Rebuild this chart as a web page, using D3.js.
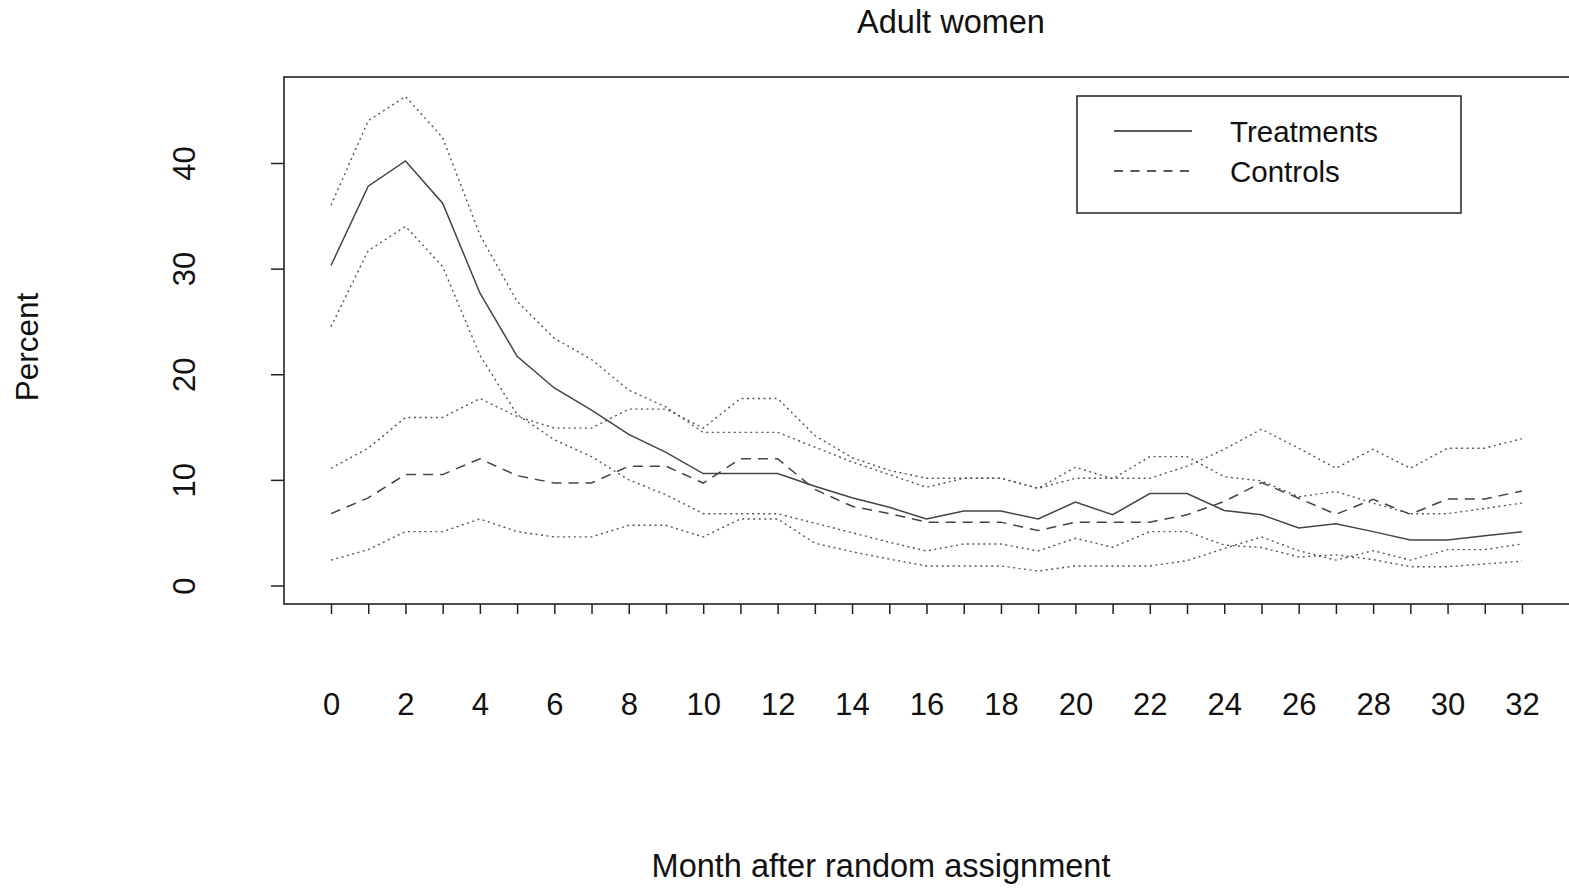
<!DOCTYPE html>
<html>
<head>
<meta charset="utf-8">
<script src="https://cdn.jsdelivr.net/npm/d3@7"></script>
<style>
  html, body { margin: 0; padding: 0; background: #fff; }
  svg { display: block; font-family: "Liberation Sans", Arial, Helvetica, sans-serif; }
</style>
</head>
<body>
<svg id="chart" width="1569" height="888"></svg>
<script>
// ---- data ----
const months = d3.range(0, 33);
const treatments = [30.3, 37.8, 40.2, 36.2, 27.7, 21.7, 18.7, 16.6, 14.3, 12.6, 10.6, 10.6, 10.6, 9.4, 8.3, 7.4, 6.3, 7.05, 7.05, 6.3, 7.9, 6.7, 8.7, 8.7, 7.1, 6.7, 5.45, 5.85, 5.1, 4.3, 4.3, 4.7, 5.1];
const treatUpper = [36.0, 44.0, 46.3, 42.4, 33.2, 26.9, 23.4, 21.4, 18.5, 16.9, 14.5, 14.5, 14.5, 13.1, 11.7, 10.5, 9.3, 10.15, 10.15, 9.2, 11.2, 10.1, 12.2, 12.2, 10.3, 9.9, 8.4, 8.9, 7.8, 6.8, 6.8, 7.3, 7.8];
const treatLower = [24.5, 31.7, 34.0, 30.2, 21.8, 16.2, 13.8, 12.2, 10.0, 8.6, 6.8, 6.8, 6.8, 5.9, 5.0, 4.1, 3.27, 3.93, 3.93, 3.27, 4.47, 3.62, 5.1, 5.1, 3.83, 3.6, 2.7, 2.9, 2.45, 1.78, 1.78, 2.04, 2.3];
const controls = [6.8, 8.3, 10.5, 10.5, 12.0, 10.4, 9.7, 9.7, 11.3, 11.3, 9.7, 12.0, 12.0, 9.1, 7.5, 6.8, 6.0, 6.0, 6.0, 5.2, 6.0, 6.0, 6.0, 6.7, 7.95, 9.74, 8.26, 6.74, 8.16, 6.74, 8.2, 8.2, 8.95];
const ctrlUpper = [11.1, 13.0, 15.9, 15.9, 17.7, 16.0, 14.9, 14.9, 16.7, 16.7, 14.9, 17.7, 17.7, 14.2, 12.1, 10.9, 10.15, 10.15, 10.15, 9.2, 10.15, 10.15, 10.15, 11.3, 12.9, 14.8, 13.0, 11.1, 12.9, 11.1, 13.0, 13.0, 13.9];
const ctrlLower = [2.4, 3.4, 5.1, 5.1, 6.3, 5.1, 4.6, 4.6, 5.7, 5.7, 4.6, 6.3, 6.3, 4.0, 3.2, 2.5, 1.85, 1.85, 1.85, 1.37, 1.85, 1.85, 1.85, 2.35, 3.5, 4.6, 3.3, 2.4, 3.3, 2.4, 3.4, 3.4, 3.93];
const yTicks = [0, 10, 20, 30, 40];
const xLabelTicks = d3.range(0, 33, 2);
const legendLabels = ["Treatments", "Controls"];
const titleText = "Adult women";
const xTitle = "Month after random assignment";
const yTitle = "Percent";

// ---- layout ----
const svg = d3.select("#chart");
const box = { left: 284, top: 77, right: 1580, bottom: 604 };
const x = d3.scaleLinear().domain([0, 32]).range([331, 1522]);
const y = d3.scaleLinear().domain([0, 40]).range([585.5, 163]);
const ink = "#222";

// plot box
svg.append("rect")
  .attr("x", box.left).attr("y", box.top)
  .attr("width", box.right - box.left).attr("height", box.bottom - box.top)
  .attr("fill", "none").attr("stroke", ink).attr("stroke-width", 1.6);

// series lines
const line = d3.line().x((d, i) => x(months[i])).y(d => y(d));
const series = [
  { v: treatUpper, dash: "2,3.5", color: "#555", w: 1.4 },
  { v: treatLower, dash: "2,3.5", color: "#555", w: 1.4 },
  { v: ctrlUpper, dash: "2,3.5", color: "#555", w: 1.4 },
  { v: ctrlLower, dash: "2,3.5", color: "#555", w: 1.4 },
  { v: controls, dash: "10,7", color: "#444", w: 1.5 },
  { v: treatments, dash: null, color: "#444", w: 1.5 }
];
svg.append("g").selectAll("path").data(series).join("path")
  .attr("d", d => line(d.v))
  .attr("fill", "none")
  .attr("stroke", d => d.color)
  .attr("stroke-width", d => d.w)
  .attr("stroke-dasharray", d => d.dash);

// x axis
const xAxis = d3.axisBottom(x)
  .tickValues(months)
  .tickSize(10)
  .tickPadding(79)
  .tickFormat(d => xLabelTicks.includes(d) ? String(d) : "");
const gx = svg.append("g").attr("transform", `translate(0,${box.bottom})`).call(xAxis);
gx.select(".domain").remove();
gx.selectAll(".tick line").attr("stroke", ink).attr("stroke-width", 1.5);
gx.selectAll(".tick text").attr("fill", "#111").attr("font-size", 31)
  .attr("font-family", "Liberation Sans, Arial, sans-serif");

// y axis
const yAxis = d3.axisLeft(y).tickValues(yTicks).tickSize(13).tickFormat(d3.format("d"));
const gy = svg.append("g").attr("transform", `translate(${box.left},0)`).call(yAxis);
gy.select(".domain").remove();
gy.selectAll(".tick line").attr("stroke", ink).attr("stroke-width", 1.5);
gy.selectAll(".tick text")
  .attr("x", null).attr("dy", null)
  .attr("transform", `translate(${195 - box.left},0) rotate(-90)`)
  .attr("text-anchor", "middle")
  .attr("fill", "#111").attr("font-size", 31)
  .attr("font-family", "Liberation Sans, Arial, sans-serif");

// titles
svg.append("text").attr("x", 951).attr("y", 33).attr("text-anchor", "middle")
  .attr("font-size", 32.5).attr("fill", "#111").text(titleText);
svg.append("text").attr("x", 881).attr("y", 877).attr("text-anchor", "middle")
  .attr("font-size", 32.5).attr("fill", "#111").text(xTitle);
svg.append("text").attr("transform", "translate(38,347) rotate(-90)").attr("text-anchor", "middle")
  .attr("font-size", 31.5).attr("fill", "#111").text(yTitle);

// legend
const lg = svg.append("g");
lg.append("rect").attr("x", 1077).attr("y", 96).attr("width", 384).attr("height", 117)
  .attr("fill", "#fff").attr("stroke", ink).attr("stroke-width", 1.5);
const legendItems = [
  { label: legendLabels[0], dash: null, yy: 131 },
  { label: legendLabels[1], dash: "9,7.5", yy: 171 }
];
legendItems.forEach(it => {
  lg.append("line").attr("x1", 1114).attr("x2", 1192).attr("y1", it.yy).attr("y2", it.yy)
    .attr("stroke", "#222").attr("stroke-width", 1.5).attr("stroke-dasharray", it.dash);
  lg.append("text").attr("x", 1230).attr("y", it.yy + 11)
    .attr("font-size", 29.5).attr("fill", "#111").text(it.label);
});
</script>
</body>
</html>
